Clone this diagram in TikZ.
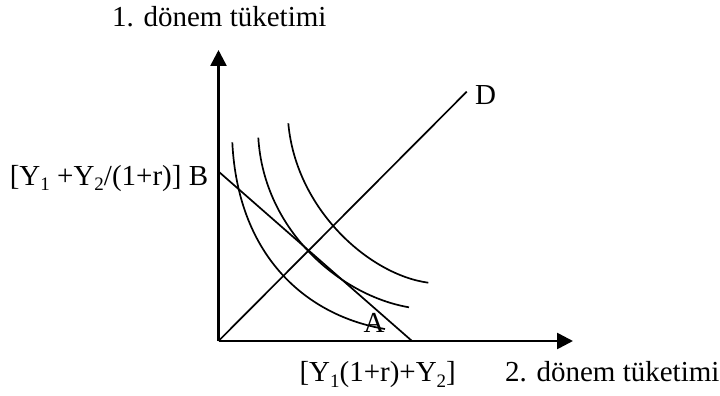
\documentclass[tikz,border=0pt]{standalone}
\usepackage{fontspec}
\setmainfont{Liberation Serif}
\usetikzlibrary{arrows.meta}
\newcommand{\mysub}[1]{\raisebox{-0.2em}{\fontsize{19}{20}\selectfont #1}}
\begin{document}
\begin{tikzpicture}[x=1pt,y=-1pt,
  lbl/.style={inner sep=0pt,font=\fontsize{29}{34}\selectfont},
  axis/.style={line width=2.6pt,-{Triangle[length=16pt,width=16pt]}},
  curve/.style={line width=1.7pt},
  ]
\useasboundingbox (0,0) rectangle (720,396);
% coordinates
\coordinate (O) at (218.5,341);
\coordinate (Ytop) at (218.5,50);
\coordinate (Xend) at (573,341);
\coordinate (Bpt) at (218.5,171.5);
\coordinate (Apt) at (412,341);
\coordinate (Dend) at (466.7,91.7);
% axes
\draw[axis] (O) -- (Ytop);
\draw[axis] (O) -- (Xend);
% budget line and ray
\draw[curve] (Bpt) -- (Apt);
\draw[curve] (O) -- (Dend);
% indifference curves
\coordinate (c1s) at (232.3,142.3);
\coordinate (c1e) at (385,329);
\coordinate (c2s) at (258.3,137.7);
\coordinate (c2e) at (409,307.3);
\coordinate (c3s) at (288.3,123.3);
\coordinate (c3e) at (428.3,282.7);
\draw[curve] (c1s) .. controls (238,258) and (308,316) .. (c1e);
\draw[curve] (c2s) .. controls (264,232) and (342,296) .. (c2e);
\draw[curve] (c3s) .. controls (296,210) and (370,275) .. (c3e);
% labels
\node[lbl,anchor=base west] (ylab) at (112,26.7) {1. dönem tüketimi};
\node[lbl,anchor=base west] (xlab) at (505,381.7) {2. dönem tüketimi};
\node[lbl,anchor=base west] (xint) at (299.3,381.7) {[Y\mysub{1}(1+r)+Y\mysub{2}]};
\node[lbl,anchor=base east] (yint) at (208.3,185) {[Y\mysub{1} +Y\mysub{2}/(1+r)] B};
\node[lbl,anchor=base] (alab) at (374,332) {A};
\node[lbl,anchor=base west] (dlab) at (475,104) {D};
\end{tikzpicture}
\end{document}
